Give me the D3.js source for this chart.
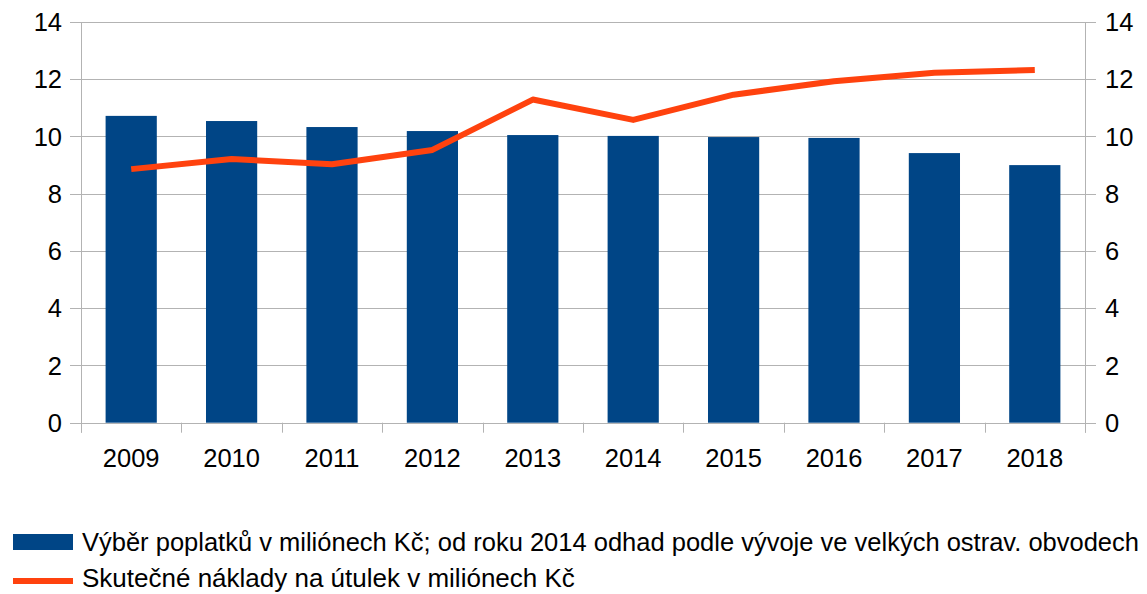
<!DOCTYPE html>
<html><head><meta charset="utf-8">
<script src="https://cdn.jsdelivr.net/npm/d3@7"></script>
<style>body{margin:0;background:#fff;}svg{display:block;font-family:"Liberation Sans",Arial,sans-serif;}</style>
</head><body><svg id="c" width="1147" height="594"></svg>
<script>
const years = ["2009","2010","2011","2012","2013","2014","2015","2016","2017","2018"];
const fees = [10.72, 10.54, 10.33, 10.19, 10.05, 10.02, 9.98, 9.95, 9.42, 9.0];
const costs = [8.86, 9.21, 9.03, 9.53, 11.29, 10.58, 11.46, 11.93, 12.23, 12.32];
const yTicks = [0, 2, 4, 6, 8, 10, 12, 14];
const seriesNames = ["Výběr poplatků v miliónech Kč; od roku 2014 odhad podle vývoje ve velkých ostrav. obvodech", "Skutečné náklady na útulek v miliónech Kč"];

const svg = d3.select("#c");
const L = 81, R = 1085, T = 22, B = 422.7;
const x = d3.scaleBand().domain(years).range([L, R]).paddingInner(0.49).paddingOuter(0.245);
const xc = d3.scaleBand().domain(years).range([L, R]);
const y = d3.scaleLinear().domain([0, 14]).range([B, T]);
const grid = "#b3b3b3";
const fs = 25.5;

// grid lines
svg.append("g").selectAll("line").data(yTicks).join("line")
  .attr("x1", L - 11).attr("x2", R + 11)
  .attr("y1", d => Math.round(y(d)) + 0.5).attr("y2", d => Math.round(y(d)) + 0.5)
  .attr("stroke", grid).attr("stroke-width", 1);
// vertical axis lines
svg.append("line").attr("x1", L + 0.5).attr("x2", L + 0.5).attr("y1", T).attr("y2", B + 10).attr("stroke", grid);
svg.append("line").attr("x1", R + 0.5).attr("x2", R + 0.5).attr("y1", T).attr("y2", B + 10).attr("stroke", grid);
// category ticks
const bounds = years.map(d => xc(d)).concat([R]);
svg.append("g").selectAll("line").data(bounds).join("line")
  .attr("x1", d => Math.round(d) + 0.5).attr("x2", d => Math.round(d) + 0.5)
  .attr("y1", B).attr("y2", B + 10).attr("stroke", grid);

// bars
svg.append("g").selectAll("rect").data(years).join("rect")
  .attr("x", d => x(d)).attr("width", x.bandwidth())
  .attr("y", (d, i) => y(fees[i])).attr("height", (d, i) => B - y(fees[i]))
  .attr("fill", "#004586");

// line
const line = d3.line().x((d, i) => xc(years[i]) + xc.bandwidth() / 2).y(d => y(d));
svg.append("path").datum(costs).attr("d", line).attr("fill", "none")
  .attr("stroke", "#ff420e").attr("stroke-width", 6).attr("stroke-linejoin", "round");

// y labels
svg.append("g").selectAll("text").data(yTicks).join("text")
  .attr("x", 62).attr("y", d => y(d)).attr("dy", "0.36em").attr("text-anchor", "end")
  .attr("font-size", fs).text(d => d);
svg.append("g").selectAll("text").data(yTicks).join("text")
  .attr("x", 1105).attr("y", d => y(d)).attr("dy", "0.36em").attr("text-anchor", "start")
  .attr("font-size", fs).text(d => d);
// x labels
svg.append("g").selectAll("text").data(years).join("text")
  .attr("x", d => xc(d) + xc.bandwidth() / 2).attr("y", 467).attr("text-anchor", "middle")
  .attr("font-size", fs).text(d => d);

// legend
svg.append("rect").attr("x", 13).attr("y", 534).attr("width", 60).attr("height", 16).attr("fill", "#004586");
svg.append("text").attr("x", 82).attr("y", 551).attr("font-size", 25.5).text(seriesNames[0]);
svg.append("line").attr("x1", 13).attr("x2", 73).attr("y1", 581).attr("y2", 581).attr("stroke", "#ff420e").attr("stroke-width", 6);
svg.append("text").attr("x", 82).attr("y", 587).attr("font-size", 26).text(seriesNames[1]);
</script></body></html>
